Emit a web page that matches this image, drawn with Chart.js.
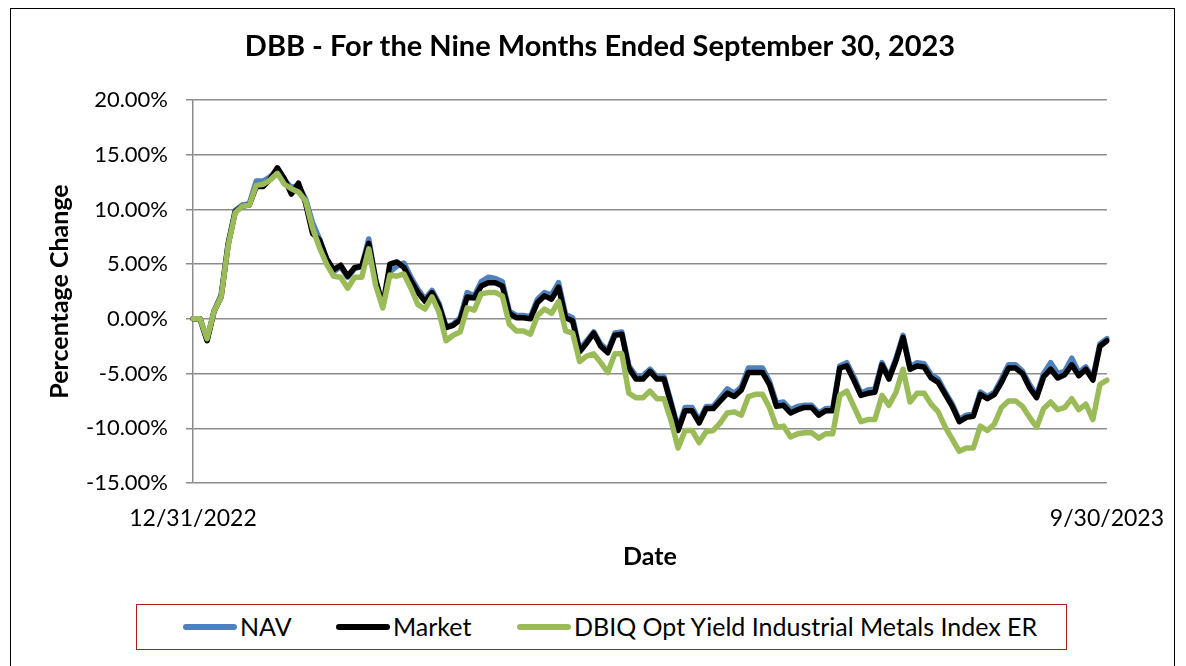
<!DOCTYPE html>
<html>
<head>
<meta charset="utf-8">
<script src="https://cdn.jsdelivr.net/npm/chart.js@4.4.0/dist/chart.umd.min.js"></script>
<style>
  html, body { margin: 0; padding: 0; background: #fff; width: 1186px; height: 666px; overflow: hidden; }
  #frame { position: absolute; left: 10px; top: 8px; width: 1165px; height: 700px; border: 1px solid #000; box-sizing: border-box; }
  #wrap { position: absolute; left: 0; top: 0; width: 1186px; height: 600px; }
  #legend { position: absolute; left: 136px; top: 604px; width: 931px; height: 46px; border: 1.5px solid #b01c1c; box-sizing: border-box; font-family: Lato, "Open Sans", sans-serif; font-size: 25px; color: #000; }
  .sw { position: absolute; top: 19px; height: 6px; width: 54px; border-radius: 3px; }
  .lt { position: absolute; top: 6px; line-height: 30px; white-space: nowrap; }
</style>
</head>
<body>
<div id="frame"></div>
<div id="wrap"><canvas id="c" width="1186" height="600"></canvas></div>
<div id="legend"></div>
<script>
// ---- data ----
const chartTitle = 'DBB - For the Nine Months Ended September 30, 2023';
const startLabel = '12/31/2022';
const endLabel = '9/30/2023';
const seriesNames = ['NAV', 'Market', 'DBIQ Opt Yield Industrial Metals Index ER'];
const yTicks = [20, 15, 10, 5, 0, -5, -10, -15];

const navValues = [
  0, 0, -1.9, 0.7, 2.2, 6.9, 9.9, 10.4, 10.5, 12.6, 12.6, 13.0, 13.6, 12.7, 12.0, 12.2,
  11.0, 8.8, 7.3, 5.5, 4.3, 4.8, 3.8, 4.6, 4.8, 7.3, 3.5, 1.2, 4.3, 4.8, 5.1, 3.8,
  2.7, 1.8, 2.6, 1.4, -0.7, -0.5, 0.1, 2.4, 2.1, 3.4, 3.8, 3.7, 3.4, 0.7, 0.3, 0.3,
  0.2, 1.8, 2.4, 2.2, 3.3, 0.4, 0.1, -2.8, -2.0, -1.2, -2.3, -2.9, -1.3, -1.2, -4.3, -5.2,
  -5.2, -4.6, -5.3, -5.3, -7.6, -10.0, -8.1, -8.1, -9.3, -8.0, -8.0, -7.2, -6.4, -6.8, -6.2, -4.5,
  -4.5, -4.5, -5.7, -7.7, -7.6, -8.3, -8.0, -7.9, -7.9, -8.6, -8.2, -8.2, -4.3, -4.0, -5.3, -6.8,
  -6.5, -6.4, -4.0, -5.3, -3.6, -1.5, -4.4, -4.0, -4.1, -5.1, -5.5, -6.7, -7.8, -9.2, -8.8, -8.7,
  -6.7, -7.1, -6.7, -5.5, -4.2, -4.2, -4.8, -6.0, -7.0, -5.0, -4.0, -5.0, -4.8, -3.6, -4.9, -4.4,
  -5.4, -2.3, -1.8
];
const marketValues = [
  0, 0, -2.0, 0.7, 2.0, 6.8, 9.8, 10.3, 10.4, 12.1, 12.1, 12.8, 13.8, 12.8, 11.4, 12.4,
  10.6, 7.8, 7.2, 5.5, 4.5, 4.9, 3.9, 4.7, 4.8, 6.9, 3.5, 1.2, 5.0, 5.2, 4.7, 3.5,
  2.4, 1.6, 2.4, 1.2, -0.8, -0.6, -0.1, 2.0, 1.9, 3.0, 3.3, 3.3, 3.0, 0.5, 0.1, 0.1,
  0.0, 1.5, 2.1, 1.8, 2.9, 0.1, -0.2, -3.0, -2.2, -1.3, -2.5, -3.1, -1.5, -1.4, -4.5, -5.5,
  -5.5, -4.8, -5.5, -5.5, -7.8, -10.2, -8.4, -8.4, -9.5, -8.2, -8.2, -7.5, -6.8, -7.1, -6.5, -4.9,
  -4.9, -4.9, -6.0, -8.0, -7.9, -8.6, -8.3, -8.1, -8.1, -8.8, -8.4, -8.4, -4.5, -4.3, -5.6, -7.0,
  -6.8, -6.7, -4.2, -5.5, -3.8, -1.7, -4.6, -4.3, -4.4, -5.4, -5.8, -6.9, -8.0, -9.4, -9.0, -8.9,
  -6.9, -7.3, -6.9, -5.8, -4.5, -4.5, -5.0, -6.3, -7.2, -5.3, -4.6, -5.4, -5.1, -4.2, -5.2, -4.6,
  -5.6, -2.5, -2.0
];
const indexValues = [
  0, 0, -1.8, 0.7, 2.0, 6.7, 9.7, 10.3, 10.4, 12.2, 12.3, 12.7, 13.3, 12.3, 11.9, 11.6,
  10.8, 8.3, 6.5, 5.0, 3.9, 3.8, 2.8, 3.8, 3.8, 6.4, 3.0, 1.0, 4.0, 3.9, 4.1, 2.8,
  1.3, 0.9, 2.0, 0.6, -2.0, -1.5, -1.2, 1.0, 0.8, 2.3, 2.4, 2.4, 2.1, -0.5, -1.1, -1.1,
  -1.4, 0.3, 0.9, 0.5, 1.6, -1.1, -1.3, -3.9, -3.4, -3.2, -4.0, -4.9, -3.2, -3.2, -6.8, -7.2,
  -7.2, -6.6, -7.3, -7.3, -9.3, -11.8, -10.2, -10.2, -11.3, -10.3, -10.2, -9.5, -8.6, -8.5, -8.8, -7.1,
  -6.9, -6.9, -8.1, -9.9, -9.8, -10.8, -10.5, -10.4, -10.4, -10.9, -10.5, -10.5, -7.0, -6.6, -8.0, -9.4,
  -9.2, -9.2, -7.0, -7.9, -6.7, -4.6, -7.6, -6.8, -6.8, -7.8, -8.5, -9.9, -11.0, -12.1, -11.8, -11.8,
  -9.8, -10.2, -9.6, -8.1, -7.5, -7.5, -8.0, -9.0, -9.9, -8.2, -7.6, -8.3, -8.1, -7.3, -8.3, -7.8,
  -9.2, -6.0, -5.6
];

const colors = { nav: '#4f81bd', market: '#000000', index: '#9bbb59' };

const labels = marketValues.map((_, i) => i === 0 ? startLabel : (i === marketValues.length - 1 ? endLabel : ''));

const FONT = 'Lato, "Open Sans", sans-serif';

const titlePlugin = {
  id: 'topTitle',
  afterDraw(chart) {
    const ctx = chart.ctx;
    ctx.save();
    ctx.fillStyle = '#000';
    ctx.font = 'bold 29px ' + FONT;
    ctx.textAlign = 'center';
    ctx.textBaseline = 'middle';
    ctx.fillText(chartTitle, 600, 47);
    ctx.restore();
  }
};

const lineStyle = { borderWidth: 5.5, pointRadius: 0, tension: 0, borderJoinStyle: 'round', borderCapStyle: 'round' };

new Chart(document.getElementById('c'), {
  type: 'line',
  data: {
    labels: labels,
    datasets: [
      Object.assign({ label: seriesNames[0], data: navValues, borderColor: colors.nav, backgroundColor: colors.nav, order: 3 }, lineStyle),
      Object.assign({ label: seriesNames[1], data: marketValues, borderColor: colors.market, backgroundColor: colors.market, order: 2 }, lineStyle),
      Object.assign({ label: seriesNames[2], data: indexValues, borderColor: colors.index, backgroundColor: colors.index, order: 1 }, lineStyle)
    ]
  },
  plugins: [titlePlugin],
  options: {
    responsive: false,
    animation: false,
    events: [],
    layout: { padding: { left: 45, right: 79, top: 100, bottom: 28 } },
    plugins: {
      legend: { display: false },
      tooltip: { enabled: false },
      title: { display: false }
    },
    scales: {
      x: {
        type: 'category',
        offset: false,
        grid: { display: false, drawTicks: false },
        border: { display: false },
        ticks: {
          autoSkip: false, maxRotation: 0, minRotation: 0, padding: 22,
          color: '#000', font: { family: FONT, size: 23 },
          callback: function (v, i) { return labels[i]; }
        },
        title: { display: true, text: 'Date', color: '#000', font: { family: FONT, size: 25, weight: 'bold' }, padding: { top: 10, bottom: 0 } },
        afterFit: function (s) { s.height = 89; }
      },
      y: {
        min: -15, max: 20,
        afterBuildTicks: function (s) { s.ticks = yTicks.map(v => ({ value: v })); },
        grid: { color: '#8c8c8c', lineWidth: 1.5, tickLength: 7, drawTicks: true },
        border: { display: true, color: '#8c8c8c', width: 1.5 },
        ticks: {
          color: '#000', font: { family: FONT, size: 22 }, padding: 18,
          callback: function (v) { return v.toFixed(2) + '%'; }
        },
        title: { display: true, text: 'Percentage Change', color: '#000', font: { family: FONT, size: 25, weight: 'bold' }, padding: { top: 0, bottom: 10 } },
        afterFit: function (s) { s.width = 148; }
      }
    }
  }
});

// ---- legend (HTML, real text) ----
const legendItems = [
  { name: seriesNames[0], color: colors.nav, sw: 182, tx: 239 },
  { name: seriesNames[1], color: colors.market, sw: 335, tx: 392 },
  { name: seriesNames[2], color: colors.index, sw: 516, tx: 573 }
];
const lg = document.getElementById('legend');
legendItems.forEach(it => {
  const s = document.createElement('div');
  s.className = 'sw'; s.style.left = (it.sw - 136) + 'px'; s.style.background = it.color;
  const t = document.createElement('div');
  t.className = 'lt'; t.style.left = (it.tx - 136) + 'px'; t.textContent = it.name;
  lg.appendChild(s); lg.appendChild(t);
});
</script>
</body>
</html>
